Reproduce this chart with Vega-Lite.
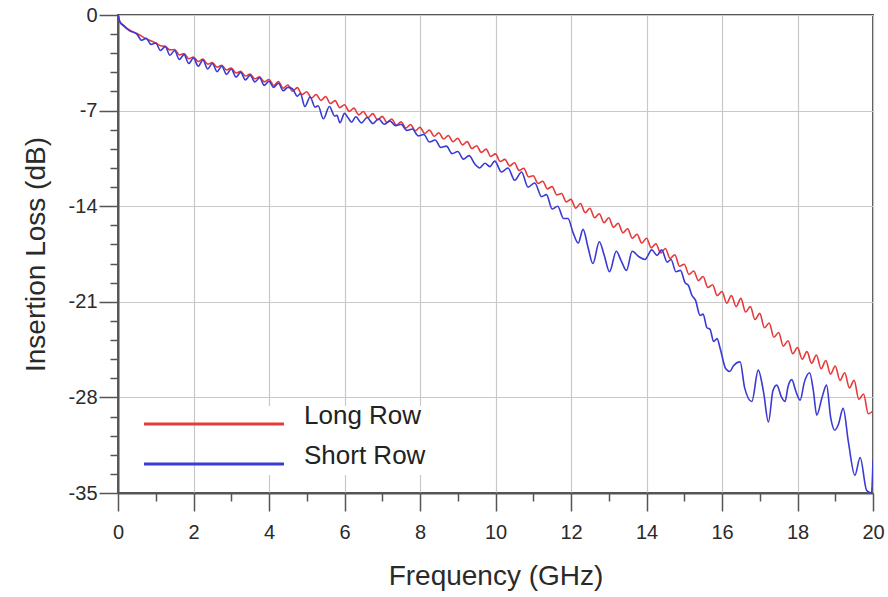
{
"$schema": "https://vega.github.io/schema/vega-lite/v6.json",
"width": 755, "height": 478,
"autosize": "none",
"padding": {"left": 118, "top": 15, "right": 15, "bottom": 104},
"background": "white",
"config": {
"font": "Liberation Sans",
"view": {"stroke": "#555555", "strokeWidth": 2},
"axis": {"domainColor": "#555555", "domainWidth": 2, "tickColor": "#555555", "tickWidth": 1.5, "gridColor": "#c8c8c8", "gridWidth": 1.2, "labelColor": "#2a2a2a", "titleColor": "#2a2a2a", "labelFont": "Liberation Sans", "titleFont": "Liberation Sans", "titleFontWeight": "normal", "labelFlush": false, "labelOverlap": false}
},
"datasets": {
"curves": [
{"s":"Long Row","f":0,"v":0},{"s":"Long Row","f":0.05,"v":-0.5},{"s":"Long Row","f":0.15,"v":-0.75},{"s":"Long Row","f":0.3,"v":-1.1},{"s":"Long Row","f":0.5,"v":-1.35},{"s":"Long Row","f":0.75,"v":-1.75},{"s":"Long Row","f":1,"v":-2.05},{"s":"Long Row","f":1.125,"v":-2.25},{"s":"Long Row","f":1.25,"v":-2.3},{"s":"Long Row","f":1.375,"v":-2.55},{"s":"Long Row","f":1.5,"v":-2.53},{"s":"Long Row","f":1.625,"v":-2.92},{"s":"Long Row","f":1.75,"v":-2.83},{"s":"Long Row","f":1.875,"v":-3.2},{"s":"Long Row","f":2,"v":-3.08},{"s":"Long Row","f":2.125,"v":-3.4},{"s":"Long Row","f":2.25,"v":-3.23},{"s":"Long Row","f":2.375,"v":-3.6},{"s":"Long Row","f":2.5,"v":-3.48},{"s":"Long Row","f":2.625,"v":-3.82},{"s":"Long Row","f":2.75,"v":-3.68},{"s":"Long Row","f":2.875,"v":-4.02},{"s":"Long Row","f":3,"v":-3.88},{"s":"Long Row","f":3.125,"v":-4.25},{"s":"Long Row","f":3.25,"v":-4.13},{"s":"Long Row","f":3.375,"v":-4.47},{"s":"Long Row","f":3.5,"v":-4.33},{"s":"Long Row","f":3.625,"v":-4.67},{"s":"Long Row","f":3.75,"v":-4.53},{"s":"Long Row","f":3.875,"v":-4.9},
{"s":"Long Row","f":4,"v":-4.72},{"s":"Long Row","f":4.125,"v":-5.16},{"s":"Long Row","f":4.25,"v":-4.87},{"s":"Long Row","f":4.375,"v":-5.36},{"s":"Long Row","f":4.5,"v":-5.12},{"s":"Long Row","f":4.625,"v":-5.58},{"s":"Long Row","f":4.75,"v":-5.32},{"s":"Long Row","f":4.875,"v":-5.83},{"s":"Long Row","f":5,"v":-5.62},{"s":"Long Row","f":5.125,"v":-6.08},{"s":"Long Row","f":5.25,"v":-5.82},{"s":"Long Row","f":5.375,"v":-6.26},{"s":"Long Row","f":5.5,"v":-5.97},{"s":"Long Row","f":5.625,"v":-6.48},{"s":"Long Row","f":5.75,"v":-6.27},{"s":"Long Row","f":5.875,"v":-6.78},{"s":"Long Row","f":6,"v":-6.57},{"s":"Long Row","f":6.125,"v":-7.06},{"s":"Long Row","f":6.25,"v":-6.82},{"s":"Long Row","f":6.375,"v":-7.31},{"s":"Long Row","f":6.5,"v":-7.07},{"s":"Long Row","f":6.625,"v":-7.51},{"s":"Long Row","f":6.75,"v":-7.22},{"s":"Long Row","f":6.875,"v":-7.68},{"s":"Long Row","f":7,"v":-7.42},{"s":"Long Row","f":7.125,"v":-7.88},{"s":"Long Row","f":7.25,"v":-7.62},{"s":"Long Row","f":7.375,"v":-8.08},{"s":"Long Row","f":7.5,"v":-7.82},{"s":"Long Row","f":7.625,"v":-8.28},{"s":"Long Row","f":7.75,"v":-8.02},{"s":"Long Row","f":7.875,"v":-8.48},
{"s":"Long Row","f":8,"v":-8.22},{"s":"Long Row","f":8.125,"v":-8.68},{"s":"Long Row","f":8.25,"v":-8.42},{"s":"Long Row","f":8.375,"v":-8.88},{"s":"Long Row","f":8.5,"v":-8.62},{"s":"Long Row","f":8.625,"v":-9.08},{"s":"Long Row","f":8.75,"v":-8.82},{"s":"Long Row","f":8.875,"v":-9.28},{"s":"Long Row","f":9,"v":-9.02},{"s":"Long Row","f":9.125,"v":-9.51},{"s":"Long Row","f":9.25,"v":-9.27},{"s":"Long Row","f":9.375,"v":-9.78},{"s":"Long Row","f":9.5,"v":-9.57},{"s":"Long Row","f":9.625,"v":-10.06},{"s":"Long Row","f":9.75,"v":-9.82},{"s":"Long Row","f":9.875,"v":-10.36},{"s":"Long Row","f":10,"v":-10.17},{"s":"Long Row","f":10.125,"v":-10.73},{"s":"Long Row","f":10.25,"v":-10.57},{"s":"Long Row","f":10.375,"v":-11.06},{"s":"Long Row","f":10.5,"v":-10.82},{"s":"Long Row","f":10.625,"v":-11.38},{"s":"Long Row","f":10.75,"v":-11.22},{"s":"Long Row","f":10.875,"v":-11.86},{"s":"Long Row","f":11,"v":-11.77},{"s":"Long Row","f":11.125,"v":-12.33},{"s":"Long Row","f":11.25,"v":-12.17},{"s":"Long Row","f":11.375,"v":-12.73},{"s":"Long Row","f":11.5,"v":-12.57},{"s":"Long Row","f":11.625,"v":-13.18},{"s":"Long Row","f":11.75,"v":-13.07},{"s":"Long Row","f":11.875,"v":-13.68},
{"s":"Long Row","f":12,"v":-13.5},{"s":"Long Row","f":12.125,"v":-14.15},{"s":"Long Row","f":12.25,"v":-13.8},{"s":"Long Row","f":12.375,"v":-14.48},{"s":"Long Row","f":12.5,"v":-14.15},{"s":"Long Row","f":12.625,"v":-14.85},{"s":"Long Row","f":12.75,"v":-14.55},{"s":"Long Row","f":12.875,"v":-15.2},{"s":"Long Row","f":13,"v":-14.85},{"s":"Long Row","f":13.125,"v":-15.55},{"s":"Long Row","f":13.25,"v":-15.25},{"s":"Long Row","f":13.375,"v":-15.95},{"s":"Long Row","f":13.5,"v":-15.65},{"s":"Long Row","f":13.625,"v":-16.35},{"s":"Long Row","f":13.75,"v":-16.05},{"s":"Long Row","f":13.875,"v":-16.7},{"s":"Long Row","f":14,"v":-16.35},{"s":"Long Row","f":14.125,"v":-17.05},{"s":"Long Row","f":14.25,"v":-16.75},{"s":"Long Row","f":14.375,"v":-17.43},{"s":"Long Row","f":14.5,"v":-17.1},{"s":"Long Row","f":14.625,"v":-17.83},{"s":"Long Row","f":14.75,"v":-17.55},{"s":"Long Row","f":14.875,"v":-18.4},{"s":"Long Row","f":15,"v":-18.25},{"s":"Long Row","f":15.125,"v":-19.0},{"s":"Long Row","f":15.25,"v":-18.75},{"s":"Long Row","f":15.375,"v":-19.45},{"s":"Long Row","f":15.5,"v":-19.15},{"s":"Long Row","f":15.625,"v":-19.95},{"s":"Long Row","f":15.75,"v":-19.75},{"s":"Long Row","f":15.875,"v":-20.55},
{"s":"Long Row","f":16,"v":-20.25},{"s":"Long Row","f":16.125,"v":-21.1},{"s":"Long Row","f":16.25,"v":-20.55},{"s":"Long Row","f":16.375,"v":-21.35},{"s":"Long Row","f":16.5,"v":-20.75},{"s":"Long Row","f":16.625,"v":-21.75},{"s":"Long Row","f":16.75,"v":-21.35},{"s":"Long Row","f":16.875,"v":-22.3},{"s":"Long Row","f":17,"v":-21.85},{"s":"Long Row","f":17.125,"v":-22.9},{"s":"Long Row","f":17.25,"v":-22.55},{"s":"Long Row","f":17.375,"v":-23.6},{"s":"Long Row","f":17.5,"v":-23.25},{"s":"Long Row","f":17.625,"v":-24.25},{"s":"Long Row","f":17.75,"v":-23.85},{"s":"Long Row","f":17.875,"v":-24.8},{"s":"Long Row","f":18,"v":-24.35},{"s":"Long Row","f":18.125,"v":-25.2},{"s":"Long Row","f":18.25,"v":-24.65},{"s":"Long Row","f":18.375,"v":-25.5},{"s":"Long Row","f":18.5,"v":-24.9},{"s":"Long Row","f":18.625,"v":-25.9},{"s":"Long Row","f":18.75,"v":-25.3},{"s":"Long Row","f":18.875,"v":-26.3},{"s":"Long Row","f":19,"v":-25.7},{"s":"Long Row","f":19.125,"v":-26.75},{"s":"Long Row","f":19.25,"v":-26.2},{"s":"Long Row","f":19.375,"v":-27.3},{"s":"Long Row","f":19.5,"v":-26.75},{"s":"Long Row","f":19.625,"v":-28.15},{"s":"Long Row","f":19.75,"v":-27.75},{"s":"Long Row","f":19.875,"v":-29.2},{"s":"Long Row","f":20,"v":-29.0},
{"s":"Short Row","f":0,"v":0},{"s":"Short Row","f":0.05,"v":-0.5},{"s":"Short Row","f":0.15,"v":-0.8},{"s":"Short Row","f":0.3,"v":-1.15},{"s":"Short Row","f":0.5,"v":-1.4},{"s":"Short Row","f":0.625,"v":-1.85},{"s":"Short Row","f":0.75,"v":-1.7},{"s":"Short Row","f":0.875,"v":-2.15},{"s":"Short Row","f":1,"v":-2.05},{"s":"Short Row","f":1.125,"v":-2.6},{"s":"Short Row","f":1.25,"v":-2.3},{"s":"Short Row","f":1.375,"v":-2.95},{"s":"Short Row","f":1.5,"v":-2.6},{"s":"Short Row","f":1.625,"v":-3.25},{"s":"Short Row","f":1.75,"v":-2.9},{"s":"Short Row","f":1.875,"v":-3.55},{"s":"Short Row","f":2,"v":-3.15},{"s":"Short Row","f":2.125,"v":-3.75},{"s":"Short Row","f":2.25,"v":-3.3},{"s":"Short Row","f":2.375,"v":-3.95},{"s":"Short Row","f":2.5,"v":-3.55},{"s":"Short Row","f":2.625,"v":-4.15},{"s":"Short Row","f":2.75,"v":-3.75},{"s":"Short Row","f":2.875,"v":-4.35},{"s":"Short Row","f":3,"v":-3.95},{"s":"Short Row","f":3.125,"v":-4.55},{"s":"Short Row","f":3.25,"v":-4.2},{"s":"Short Row","f":3.375,"v":-4.75},{"s":"Short Row","f":3.5,"v":-4.4},{"s":"Short Row","f":3.625,"v":-4.9},{"s":"Short Row","f":3.75,"v":-4.6},{"s":"Short Row","f":3.875,"v":-5.15},{"s":"Short Row","f":4,"v":-4.85},{"s":"Short Row","f":4.125,"v":-5.3},{"s":"Short Row","f":4.25,"v":-5.0},{"s":"Short Row","f":4.375,"v":-5.55},{"s":"Short Row","f":4.5,"v":-5.3},
{"s":"Short Row","f":4.62,"v":-5.4},{"s":"Short Row","f":4.75,"v":-5.95},{"s":"Short Row","f":4.83,"v":-5.75},{"s":"Short Row","f":4.95,"v":-6.7},{"s":"Short Row","f":5.09,"v":-6.0},{"s":"Short Row","f":5.22,"v":-6.75},{"s":"Short Row","f":5.3,"v":-6.65},{"s":"Short Row","f":5.44,"v":-7.6},{"s":"Short Row","f":5.6,"v":-6.7},{"s":"Short Row","f":5.74,"v":-7.4},{"s":"Short Row","f":5.8,"v":-7.35},{"s":"Short Row","f":5.88,"v":-7.9},{"s":"Short Row","f":6.0,"v":-7.2},{"s":"Short Row","f":6.1,"v":-7.55},{"s":"Short Row","f":6.19,"v":-7.85},{"s":"Short Row","f":6.3,"v":-7.45},{"s":"Short Row","f":6.45,"v":-7.9},{"s":"Short Row","f":6.6,"v":-7.5},{"s":"Short Row","f":6.75,"v":-7.95},{"s":"Short Row","f":6.9,"v":-7.6},{"s":"Short Row","f":7.05,"v":-8.0},{"s":"Short Row","f":7.2,"v":-7.75},{"s":"Short Row","f":7.35,"v":-8.1},{"s":"Short Row","f":7.5,"v":-8.0},{"s":"Short Row","f":7.65,"v":-8.45},{"s":"Short Row","f":7.8,"v":-8.35},{"s":"Short Row","f":7.95,"v":-8.85},{"s":"Short Row","f":8.1,"v":-8.75},{"s":"Short Row","f":8.25,"v":-9.3},{"s":"Short Row","f":8.4,"v":-9.15},{"s":"Short Row","f":8.55,"v":-9.7},{"s":"Short Row","f":8.7,"v":-9.6},{"s":"Short Row","f":8.85,"v":-10.15},{"s":"Short Row","f":9.0,"v":-10.0},{"s":"Short Row","f":9.15,"v":-10.55},{"s":"Short Row","f":9.3,"v":-10.3},{"s":"Short Row","f":9.45,"v":-10.9},{"s":"Short Row","f":9.58,"v":-11.2},{"s":"Short Row","f":9.72,"v":-10.85},{"s":"Short Row","f":9.85,"v":-11.1},{"s":"Short Row","f":9.98,"v":-10.7},{"s":"Short Row","f":10.16,"v":-11.5},{"s":"Short Row","f":10.33,"v":-11.2},{"s":"Short Row","f":10.51,"v":-12.1},{"s":"Short Row","f":10.69,"v":-11.5},{"s":"Short Row","f":10.86,"v":-12.6},{"s":"Short Row","f":11.04,"v":-12.3},{"s":"Short Row","f":11.22,"v":-13.3},{"s":"Short Row","f":11.35,"v":-13.15},{"s":"Short Row","f":11.5,"v":-14.2},{"s":"Short Row","f":11.65,"v":-14.0},{"s":"Short Row","f":11.8,"v":-14.9},{"s":"Short Row","f":11.92,"v":-14.9},
{"s":"Short Row","f":12.05,"v":-15.9},{"s":"Short Row","f":12.19,"v":-16.7},{"s":"Short Row","f":12.32,"v":-15.7},{"s":"Short Row","f":12.45,"v":-17.0},{"s":"Short Row","f":12.58,"v":-18.2},{"s":"Short Row","f":12.75,"v":-16.6},{"s":"Short Row","f":12.88,"v":-17.6},{"s":"Short Row","f":13.02,"v":-18.8},{"s":"Short Row","f":13.2,"v":-17.3},{"s":"Short Row","f":13.33,"v":-18.0},{"s":"Short Row","f":13.47,"v":-18.7},{"s":"Short Row","f":13.62,"v":-17.3},{"s":"Short Row","f":13.8,"v":-17.7},{"s":"Short Row","f":13.96,"v":-17.9},{"s":"Short Row","f":14.14,"v":-17.2},{"s":"Short Row","f":14.28,"v":-17.6},{"s":"Short Row","f":14.4,"v":-17.2},{"s":"Short Row","f":14.55,"v":-18.1},{"s":"Short Row","f":14.65,"v":-17.9},{"s":"Short Row","f":14.78,"v":-18.8},{"s":"Short Row","f":14.9,"v":-18.7},{"s":"Short Row","f":15.02,"v":-19.6},{"s":"Short Row","f":15.11,"v":-19.8},{"s":"Short Row","f":15.2,"v":-20.5},{"s":"Short Row","f":15.3,"v":-20.9},{"s":"Short Row","f":15.42,"v":-22.0},{"s":"Short Row","f":15.5,"v":-21.9},{"s":"Short Row","f":15.6,"v":-22.9},{"s":"Short Row","f":15.68,"v":-23.0},{"s":"Short Row","f":15.78,"v":-23.9},{"s":"Short Row","f":15.87,"v":-23.7},{"s":"Short Row","f":15.95,"v":-24.4},
{"s":"Short Row","f":16.1,"v":-25.9},{"s":"Short Row","f":16.21,"v":-26.1},{"s":"Short Row","f":16.3,"v":-25.7},{"s":"Short Row","f":16.48,"v":-25.4},{"s":"Short Row","f":16.6,"v":-27.3},{"s":"Short Row","f":16.79,"v":-28.3},{"s":"Short Row","f":16.96,"v":-26.0},{"s":"Short Row","f":17.1,"v":-27.6},{"s":"Short Row","f":17.23,"v":-29.8},{"s":"Short Row","f":17.35,"v":-27.5},{"s":"Short Row","f":17.45,"v":-27.1},{"s":"Short Row","f":17.58,"v":-28.0},{"s":"Short Row","f":17.67,"v":-28.3},{"s":"Short Row","f":17.75,"v":-27.2},{"s":"Short Row","f":17.85,"v":-26.7},{"s":"Short Row","f":17.95,"v":-27.5},{"s":"Short Row","f":18.07,"v":-28.2},{"s":"Short Row","f":18.18,"v":-26.9},{"s":"Short Row","f":18.32,"v":-26.2},{"s":"Short Row","f":18.42,"v":-27.5},{"s":"Short Row","f":18.51,"v":-29.3},{"s":"Short Row","f":18.65,"v":-28.0},{"s":"Short Row","f":18.77,"v":-27.1},{"s":"Short Row","f":18.88,"v":-29.5},{"s":"Short Row","f":18.99,"v":-30.4},{"s":"Short Row","f":19.08,"v":-30.0},{"s":"Short Row","f":19.21,"v":-28.8},{"s":"Short Row","f":19.35,"v":-31.3},{"s":"Short Row","f":19.52,"v":-33.7},{"s":"Short Row","f":19.66,"v":-32.4},{"s":"Short Row","f":19.83,"v":-34.8},{"s":"Short Row","f":19.96,"v":-35.0},{"s":"Short Row","f":20,"v":-32.6}
]
},
"data": {"name": "curves"},
"mark": {"type": "line", "strokeWidth": 1.6, "interpolate": "monotone", "clip": true},
"encoding": {
"x": {"field": "f", "type": "quantitative", "scale": {"domain": [0, 20], "nice": false, "zero": false},
 "axis": {"values": [0,1,2,3,4,5,6,7,8,9,10,11,12,13,14,15,16,17,18,19,20],
  "labelExpr": "datum.value % 2 === 0 ? '' + datum.value : ''",
  "tickSize": {"condition": {"test": "datum.value % 2 === 0", "value": 18}, "value": 8},
  "gridOpacity": {"condition": {"test": "datum.value % 2 === 0", "value": 1}, "value": 0},
  "labelFontSize": 20, "labelPadding": 11,
  "title": "Frequency (GHz)", "titleFontSize": 28, "titlePadding": 20}},
"y": {"field": "v", "type": "quantitative", "scale": {"domain": [-35, 0], "nice": false, "zero": false},
 "axis": {"values": [-35,-33.6,-32.2,-30.8,-29.4,-28,-26.6,-25.2,-23.8,-22.4,-21,-19.6,-18.2,-16.8,-15.4,-14,-12.6,-11.2,-9.8,-8.4,-7,-5.6,-4.2,-2.8,-1.4,0],
  "labelExpr": "indexof([0,-7,-14,-21,-28,-35], datum.value) >= 0 ? '' + datum.value : ''",
  "tickSize": {"condition": {"test": "indexof([0,-7,-14,-21,-28,-35], datum.value) >= 0", "value": 19}, "value": 8},
  "gridOpacity": {"condition": {"test": "indexof([0,-7,-14,-21,-28,-35], datum.value) >= 0", "value": 1}, "value": 0},
  "labelFontSize": 20, "labelPadding": 2,
  "title": "Insertion Loss (dB)", "titleFontSize": 28, "titlePadding": 18}},
"color": {"field": "s", "type": "nominal",
 "scale": {"domain": ["Long Row", "Short Row"], "range": ["#e63a3a", "#3a3ad4"]},
 "legend": {"title": null, "orient": "none", "legendX": 78, "legendY": 391,
  "symbolType": "M-7,0H7", "symbolSize": 400, "symbolStrokeWidth": 3,
  "labelFontSize": 26, "labelColor": "#222222", "labelOffset": 77, "labelBaseline": "alphabetic",
  "rowPadding": 13, "fillColor": "white", "padding": 5}}
}
}
